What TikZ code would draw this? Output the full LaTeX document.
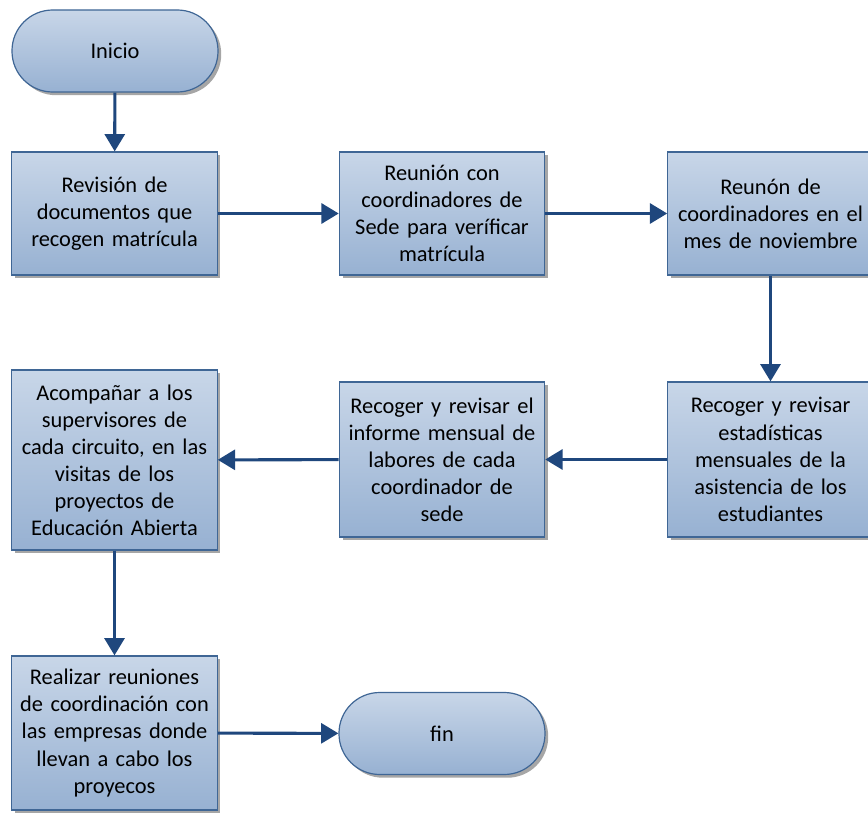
\documentclass[tikz,border=0pt]{standalone}
\usepackage{fontspec}
\setmainfont{Carlito}
\usetikzlibrary{arrows.meta,shadows}
\definecolor{boxtop}{HTML}{C8D6E8}
\definecolor{boxbot}{HTML}{97B1D2}
\definecolor{boxline}{HTML}{3F6695}
\definecolor{arrowcol}{HTML}{1F477D}
\begin{document}
\begin{tikzpicture}[x=0.75pt,y=-0.75pt,
  base/.style={draw=boxline,line width=0.9pt,top color=boxtop,bottom color=boxbot,
    drop shadow={shadow xshift=2.4pt,shadow yshift=-2.4pt,fill=black!35,opacity=1},
    align=center,font=\fontsize{16.8}{20.3}\selectfont,text=black,inner sep=2pt},
  procbox/.style={base,rectangle,minimum width=153.75pt,text width=150pt},
  pill/.style={base,rectangle,rounded corners=30.5pt,minimum width=154.5pt,minimum height=61.5pt},
  conn/.style={draw=arrowcol,line width=2.3pt,-{Triangle[length=13pt,width=15pt]}}]
\useasboundingbox (0,0) rectangle (868,813);
\node[pill] (inicio) at (115,51) {Inicio};
\node[procbox,minimum height=92.25pt] (b1) at (114.5,213.5) {Revisión de\\documentos que\\recogen matrícula};
\node[procbox,minimum height=92.25pt] (b2) at (442,213.5) {Reunión con\\coordinadores de\\Sede para veríficar\\matrícula};
\node[procbox,minimum height=92.25pt] (b3) at (770.5,213.5) {Reunón de\\coordinadores en el\\mes de noviembre};
\node[procbox,minimum height=116.25pt] (b4) at (770.5,459.5) {Recoger y revisar\\estadísticas\\mensuales de la\\asistencia de los\\estudiantes};
\node[procbox,minimum height=116.25pt] (b5) at (442,459.5) {Recoger y revisar el\\informe mensual de\\labores de cada\\coordinador de\\sede};
\node[procbox,minimum height=135pt] (b6) at (114.5,460) {Acompañar a los\\supervisores de\\cada circuito, en las\\visitas de los\\proyectos de\\Educación Abierta};
\node[procbox,minimum height=115.5pt] (b7) at (114.5,733) {Realizar reuniones\\de coordinación con\\las empresas donde\\llevan a cabo los\\proyecos};
\node[pill] (fin) at (442,733.5) {fin};
\draw[conn] (inicio) -- (b1);
\draw[conn] (b1) -- (b2);
\draw[conn] (b2) -- (b3);
\draw[conn] (b3) -- (b4);
\draw[conn] (b4) -- (b5);
\draw[conn] (b5) -- (b6);
\draw[conn] (b6) -- (b7);
\draw[conn] (b7) -- (fin);
\end{tikzpicture}
\end{document}
